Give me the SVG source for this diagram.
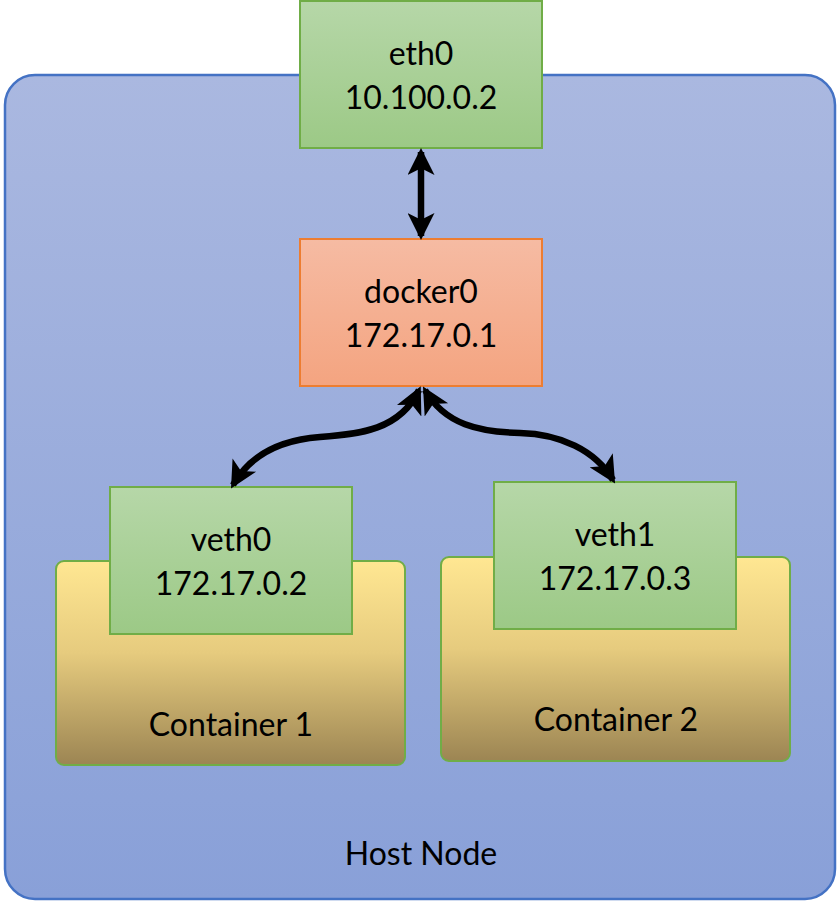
<svg xmlns="http://www.w3.org/2000/svg" width="838" height="902" viewBox="0 0 838 902">
  <style>
    .lbl { font-family: Lato, "Open Sans", "Liberation Sans", sans-serif; font-size: 32px; fill: #000; text-anchor: middle; }
    .iface { fill: url(#gGreen); stroke: #70ad47; stroke-width: 2; }
    .ctr { fill: url(#gGold); stroke: #70ad47; stroke-width: 2; }
    .link { fill: none; stroke: #000; stroke-width: 6.5; marker-start: url(#head); marker-end: url(#head); }
  </style>
  <defs>
    <linearGradient id="gHost" x1="0" y1="0" x2="0" y2="1">
      <stop offset="0" stop-color="#aab8e0"/>
      <stop offset="1" stop-color="#89a0d8"/>
    </linearGradient>
    <linearGradient id="gGreen" x1="0" y1="0" x2="0" y2="1">
      <stop offset="0" stop-color="#b6d7a8"/>
      <stop offset="1" stop-color="#9cc986"/>
    </linearGradient>
    <linearGradient id="gOrange" x1="0" y1="0" x2="0" y2="1">
      <stop offset="0" stop-color="#f6bba3"/>
      <stop offset="1" stop-color="#f4a480"/>
    </linearGradient>
    <linearGradient id="gGold" x1="0" y1="0" x2="0" y2="1">
      <stop offset="0" stop-color="#ffe792"/>
      <stop offset="0.45" stop-color="#e6cb7e"/>
      <stop offset="1" stop-color="#9c8553"/>
    </linearGradient>
    <marker id="head" viewBox="0 0 10 10" refX="8.5" refY="5" markerUnits="userSpaceOnUse" markerWidth="31" markerHeight="27" orient="auto-start-reverse">
      <path d="M0,0 L10,5 L0,10 L2.5,5 z" fill="#000"/>
    </marker>
  </defs>

  <!-- host node container -->
  <g id="host">
    <rect x="5" y="75" width="830" height="824" rx="30" ry="30" fill="url(#gHost)" stroke="#4472c4" stroke-width="2.5"/>
    <text class="lbl" x="421" y="865">Host Node</text>
  </g>

  <g id="container1">
    <rect class="ctr" x="56" y="561" width="349" height="204" rx="8" ry="8"/>
    <text class="lbl" x="231" y="736">Container 1</text>
  </g>

  <g id="container2">
    <rect class="ctr" x="441" y="557" width="349" height="204" rx="8" ry="8"/>
    <text class="lbl" x="616" y="731">Container 2</text>
  </g>

  <g id="eth0">
    <rect class="iface" x="300" y="1" width="242" height="147"/>
    <text class="lbl" x="421" y="65">eth0</text>
    <text class="lbl" x="421" y="109">10.100.0.2</text>
  </g>

  <g id="docker0">
    <rect x="300" y="239" width="242" height="147" fill="url(#gOrange)" stroke="#ed7d31" stroke-width="2"/>
    <text class="lbl" x="421" y="303">docker0</text>
    <text class="lbl" x="421" y="347">172.17.0.1</text>
  </g>

  <g id="veth0">
    <rect class="iface" x="110" y="487" width="242" height="147"/>
    <text class="lbl" x="231" y="551">veth0</text>
    <text class="lbl" x="231" y="595">172.17.0.2</text>
  </g>

  <g id="veth1">
    <rect class="iface" x="494" y="482" width="242" height="147"/>
    <text class="lbl" x="615" y="546">veth1</text>
    <text class="lbl" x="615" y="590">172.17.0.3</text>
  </g>

  <g id="connectors">
    <path class="link" d="M421,152 L421,236"/>
    <path class="link" d="M419,390 C400,430 360,434 320,437 C280,440 250,455 233,485"/>
    <path class="link" d="M425,390 C445,425 480,432 520,433 C560,434 595,450 613,480"/>
  </g>
</svg>
